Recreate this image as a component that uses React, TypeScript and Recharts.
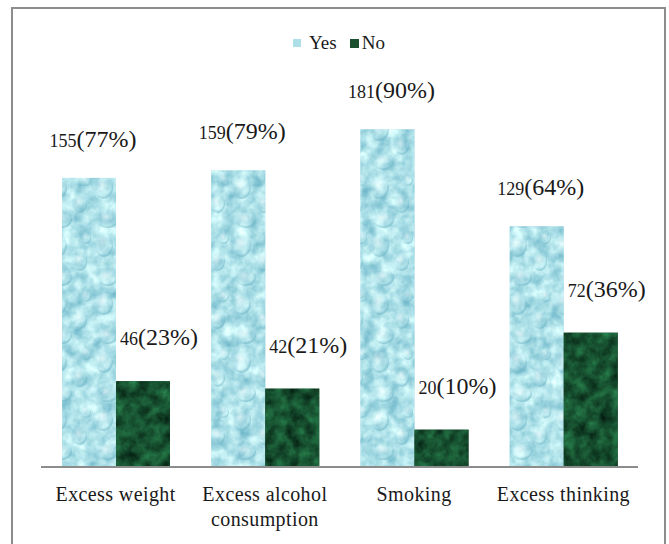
import { Bar, BarChart, LabelList, Legend, XAxis, YAxis } from "recharts";

const categories = ["Excess weight", "Excess alcohol\nconsumption", "Smoking", "Excess thinking"];
const yesCounts = [155, 159, 181, 129];
const noCounts = [46, 42, 20, 72];
const yesPct = [77, 79, 90, 64];
const noPct = [23, 21, 10, 36];

const data = categories.map((name, i) => ({ name, yes: yesCounts[i], no: noCounts[i] }));

const FONT = "Liberation Serif, Times New Roman, serif";
const BLUE = "#addfe9";
const GREEN = "#1b4f2e";

function WaterBar(props: any) {
  const { x, y, width, height } = props;
  if (!height || height <= 0) return null;
  return (
    <g>
      <rect x={x} y={y} width={width} height={height} fill={BLUE} />
      <rect x={x} y={y} width={width} height={height} fill={BLUE} filter="url(#water)" />
      <rect x={x} y={y} width={width} height={height} fill="url(#drops)" />
    </g>
  );
}

function MarbleBar(props: any) {
  const { x, y, width, height } = props;
  if (!height || height <= 0) return null;
  return (
    <g>
      <rect x={x} y={y} width={width} height={height} fill={GREEN} />
      <rect x={x} y={y} width={width} height={height} fill={GREEN} filter="url(#marble)" />
    </g>
  );
}

const makeLabel = (pcts: number[], dx: number, gap: number) => (props: any) => {
  const { x, y, width, value, index } = props;
  return (
    <text x={x + width / 2 + dx} y={y - gap} textAnchor="middle" style={{ fontFamily: FONT }} fill="#1a1a1a">
      <tspan fontSize={18}>{value}</tspan>
      <tspan fontSize={24}>({pcts[index]}%)</tspan>
    </text>
  );
};

function CategoryTick(props: any) {
  const { x, y, payload } = props;
  const lines = String(payload.value).split("\n");
  return (
    <text x={x} y={y} textAnchor="middle" style={{ fontFamily: FONT, letterSpacing: 0.4 }} fontSize={20} fill="#1a1a1a">
      {lines.map((l, i) => (
        <tspan key={i} x={x} dy={i === 0 ? 34 : 25}>{l}</tspan>
      ))}
    </text>
  );
}

function LegendBox() {
  return (
    <div style={{ display: "flex", alignItems: "center", fontFamily: FONT, fontSize: 19, color: "#1a1a1a" }}>
      <span style={{ width: 8, height: 8, background: BLUE, marginRight: 8 }} />
      <span style={{ marginRight: 13 }}>Yes</span>
      <span style={{ width: 9, height: 9, background: GREEN, marginRight: 3 }} />
      <span>No</span>
    </div>
  );
}

export default function App() {
  return (
    <div style={{ position: "absolute", left: 0, top: 0, width: 669, height: 544, background: "#fff", overflow: "hidden" }}>
      <div style={{ position: "absolute", left: 11, top: 7, width: 655, height: 545, border: "2px solid #8d8d8d", boxSizing: "border-box" }} />
      <BarChart
        width={669}
        height={544}
        data={data}
        margin={{ top: 94, right: 31, bottom: 17, left: 41 }}
        barCategoryGap={21}
        barGap={0}
        style={{ position: "absolute", left: 0, top: 0 }}
      >
        <defs>
          <filter id="water" x="0" y="0" width="1" height="1" colorInterpolationFilters="sRGB">
            <feTurbulence type="fractalNoise" baseFrequency="0.08" numOctaves={3} seed={4} result="n" />
            <feColorMatrix
              in="n"
              type="matrix"
              values="0.6 0 0 0 0.38  0.4 0 0 0 0.68  0.3 0 0 0 0.76  0 0 0 0 1"
              result="c"
            />
            <feComposite in="c" in2="SourceGraphic" operator="in" />
          </filter>
          <filter id="marble" x="0" y="0" width="1" height="1" colorInterpolationFilters="sRGB">
            <feTurbulence type="fractalNoise" baseFrequency="0.08" numOctaves={4} seed={9} result="n" />
            <feColorMatrix
              in="n"
              type="matrix"
              values="0.18 0 0 0 0.0  0.5 0 0 0 0.07  0.3 0 0 0 0.04  0 0 0 0 1"
              result="c"
            />
            <feComposite in="c" in2="SourceGraphic" operator="in" />
          </filter>
          <radialGradient id="drop" cx="40%" cy="35%" r="60%">
            <stop offset="0%" stopColor="#ffffff" stopOpacity={0.5} />
            <stop offset="70%" stopColor="#c8eef4" stopOpacity={0.1} />
            <stop offset="100%" stopColor="#6fb6c7" stopOpacity={0.55} />
          </radialGradient>
          <pattern id="drops" width="46" height="58" patternUnits="userSpaceOnUse">
            <ellipse cx="12" cy="14" rx="9" ry="11" fill="url(#drop)" />
            <ellipse cx="34" cy="30" rx="7" ry="9" fill="url(#drop)" />
            <ellipse cx="16" cy="46" rx="10" ry="8" fill="url(#drop)" />
            <ellipse cx="40" cy="6" rx="5" ry="6" fill="url(#drop)" />
          </pattern>
        </defs>
        <Legend
          verticalAlign="middle"
          align="center"
          layout="horizontal"
          content={<LegendBox />}
          wrapperStyle={{ left: 293, top: 32, width: "auto" }}
        />
        <XAxis
          dataKey="name"
          height={60}
          tickLine={false}
          tickSize={0}
          tickMargin={0}
          interval={0}
          axisLine={{ stroke: "#8c8c8c", strokeWidth: 2 }}
          tick={<CategoryTick />}
        />
        <YAxis hide domain={[0, 200]} />
        <Bar dataKey="yes" name="Yes" fill={BLUE} shape={<WaterBar />} isAnimationActive={false}>
          <LabelList dataKey="yes" content={makeLabel(yesPct, 4, 31)} />
        </Bar>
        <Bar dataKey="no" name="No" fill={GREEN} shape={<MarbleBar />} isAnimationActive={false}>
          <LabelList dataKey="no" content={makeLabel(noPct, 16, 36)} />
        </Bar>
      </BarChart>
    </div>
  );
}
